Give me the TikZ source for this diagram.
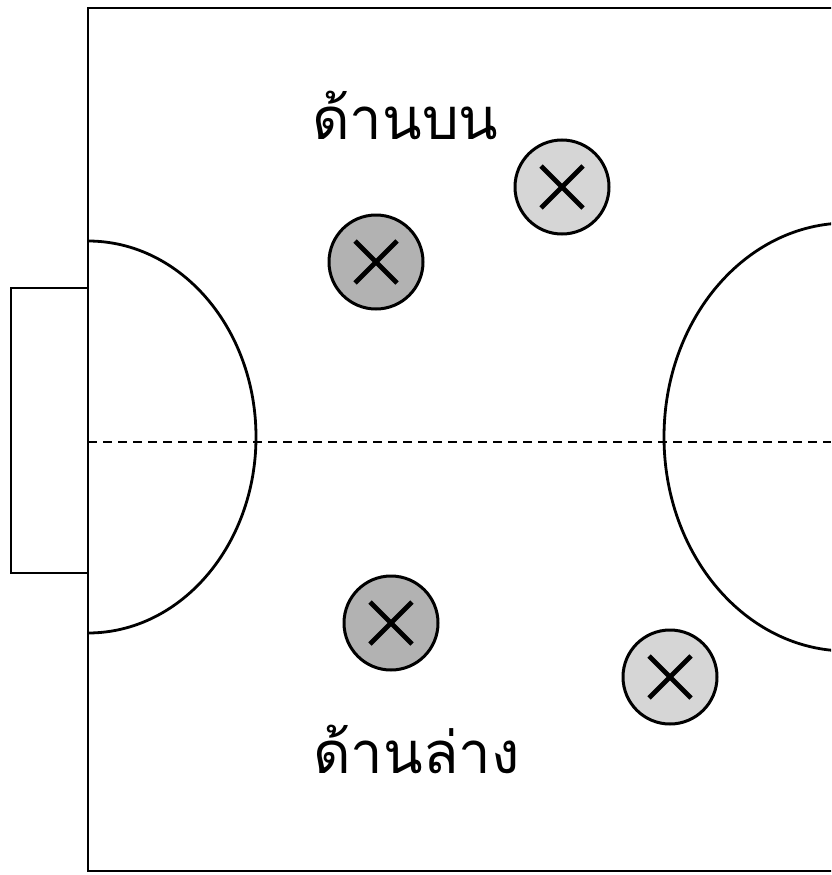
\documentclass[tikz,border=0pt]{standalone}
\usepackage{fontspec}
\newfontfamily\thaifont[Script=Thai]{Loma}
\definecolor{darkdot}{gray}{0.70}
\definecolor{lightdot}{gray}{0.84}
\begin{document}
\begin{tikzpicture}[x=1pt,y=-1pt,
  line/.style={line width=2.8pt},
  player/.style={circle,draw,line width=3pt,minimum size=94pt,inner sep=0pt,fill=#1,
    path picture={\draw[line width=4.8pt]
      ([shift={(-21pt,-21pt)}]path picture bounding box.center) -- ([shift={(21pt,21pt)}]path picture bounding box.center)
      ([shift={(-21pt,21pt)}]path picture bounding box.center) -- ([shift={(21pt,-21pt)}]path picture bounding box.center);}},
  side/.style={font=\thaifont\fontsize{58}{70}\selectfont,inner sep=0pt,anchor=base west}]
\useasboundingbox (0,0) rectangle (831,875);
\clip (0,0) rectangle (831,875);
% Field and goal area
\draw[line] (845,8) -- (88,8) -- (88,871) -- (845,871);
\draw[line] (88,288) -- (11,288) -- (11,573) -- (88,573);
\begin{scope}
\clip (88,0) rectangle (831,875);
\draw[line] (88,437) ellipse [x radius=168, y radius=196];
\draw[line] (847,437) ellipse [x radius=183, y radius=214];
\end{scope}
\draw[line width=2pt, dash pattern=on 9pt off 6pt] (88,442) -- (831,442);
% Players
\node[player=darkdot] (upleft) at (376,262) {};
\node[player=lightdot] (upright) at (562,187) {};
\node[player=darkdot] (lowleft) at (391,623) {};
\node[player=lightdot] (lowright) at (670,677) {};
% Labels
\node[side] (upper) at (312,139) {ด้านบน};
\node[side] (lower) at (313,773) {ด้านล่าง};
\end{tikzpicture}
\end{document}
